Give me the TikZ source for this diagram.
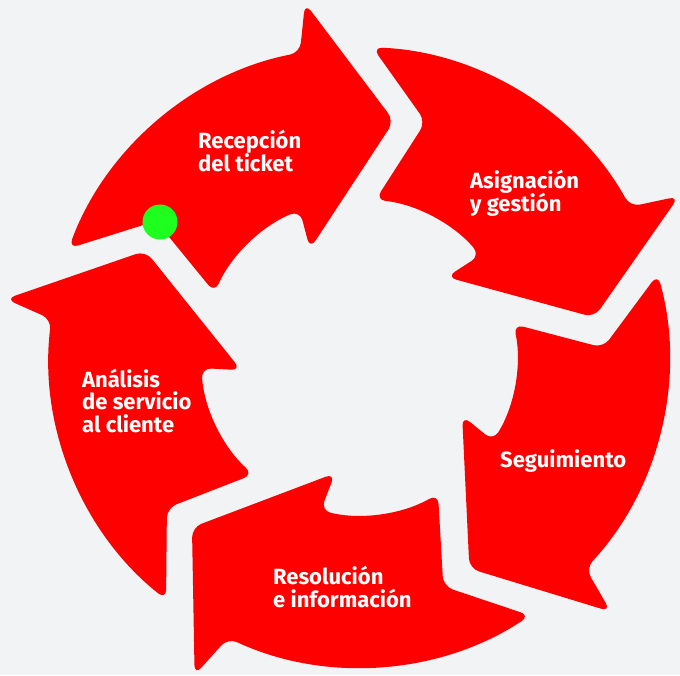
\documentclass[tikz,border=0pt]{standalone}
\usepackage{fontspec}
\setsansfont{Fira Sans}
\usetikzlibrary{positioning}
\definecolor{bggrey}{HTML}{F2F3F5}
\definecolor{cyclered}{HTML}{FF0000}
\definecolor{dotgreen}{HTML}{1EFF1E}
\newcommand{\labelfont}{\sffamily\bfseries\fontsize{22}{22.5}\selectfont\lineskiplimit=-20pt\relax}
\tikzset{
	segment/.style={fill=cyclered,rounded corners=10pt},
	steplabel/.style={text=white,font=\labelfont,align=left,inner sep=0pt,anchor=base west},
	startdot/.style={circle,fill=dotgreen,minimum size=35pt,inner sep=0pt}
}

\begin{document}
\begin{tikzpicture}[x=1pt,y=1pt]
	\fill[bggrey] (0,0) rectangle (680,-675);
	\useasboundingbox (0,0) rectangle (680,-675);

	% five arrow segments, turned clockwise
	\foreach \k in {0,...,4}{
		\fill[segment,shift={(359,-357)},rotate=-72*\k] (159.5:310) arc[start angle=159.5,end angle=101,radius=310]
			-- (-54,354) -- (35,236) -- (-49,108) -- (112:158) arc[start angle=112,end angle=156,radius=158]
			-- (-203,136) -- cycle;
	}

	\node[steplabel] (recep) at (198,-171) {Recepción\\del ticket};
	\node[steplabel] (asign) at (470,-211) {Asignación\\y gestión};
	\node[steplabel] (segui) at (500,-467) {Seguimiento};
	\node[steplabel] (resol) at (273,-607) {Resolución\\e información};
	\node[steplabel] (anali) at (82,-432) {Análisis\\de servicio\\al cliente};

	\node[startdot] (start) at (160,-222) {};
\end{tikzpicture}
\end{document}
